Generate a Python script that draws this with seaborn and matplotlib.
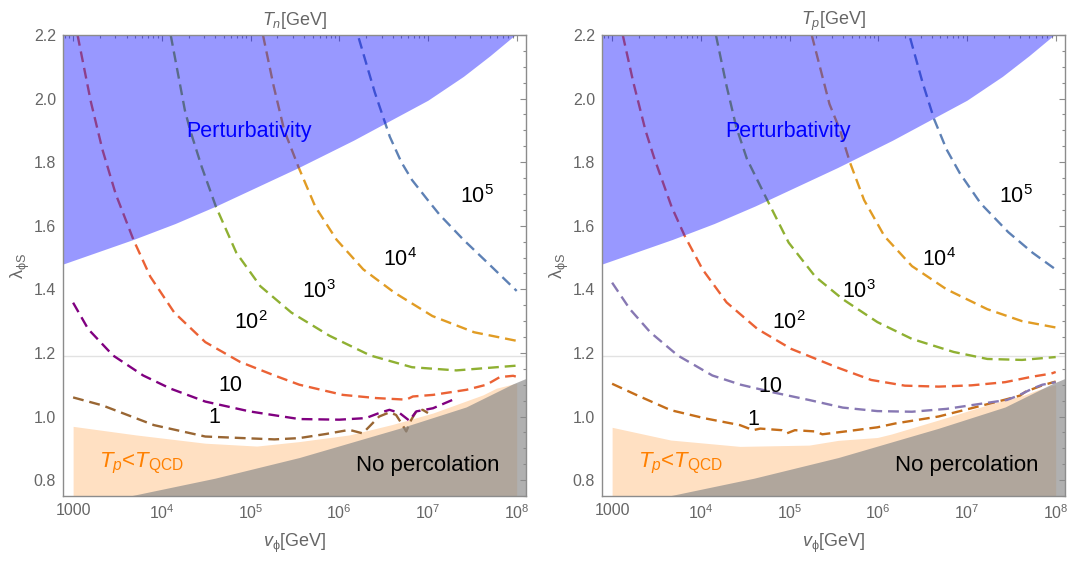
import numpy as np
import matplotlib
matplotlib.use("Agg")
import matplotlib.pyplot as plt
import matplotlib.ticker as mticker
import seaborn as sns

# ── Data (x values are log10 of v_phi in GeV) ────────────────────────────────
# perturbativity bound (same for both panels)
pert_logv = [2.85, 3.68, 4.15, 4.61, 5.54, 6.16, 6.60, 7.00, 7.40, 7.70, 7.98, 8.20]
pert_lam  = [1.476, 1.557, 1.607, 1.662, 1.783, 1.869, 1.935, 1.995, 2.070, 2.135, 2.200, 2.255]

# no-percolation bound (same for both panels)
noperc_logv = [3.64, 4.60, 5.55, 6.68, 7.43, 7.96, 8.15]
noperc_lam  = [0.750, 0.806, 0.871, 0.963, 1.030, 1.103, 1.125]

# T_p < T_QCD upper edge
qcd_n_logv = [3.0, 3.71, 4.49, 5.07, 5.547, 6.113, 6.60, 7.057, 7.62, 7.77, 8.0]
qcd_n_lam  = [0.969, 0.942, 0.916, 0.907, 0.921, 0.942, 0.975, 1.011, 1.068, 1.089, 1.105]
qcd_p_logv = [3.0, 3.66, 4.44, 5.22, 5.55, 5.99, 6.15, 6.68, 7.24, 7.65, 7.80, 8.0]
qcd_p_lam  = [0.966, 0.926, 0.906, 0.910, 0.925, 0.934, 0.945, 0.989, 1.037, 1.068, 1.084, 1.100]

# T_n contours
tn_1e5_x = [6.22, 6.40, 6.57, 6.70, 6.82, 7.00, 7.13, 7.40, 7.67, 8.00]
tn_1e5_y = [2.19, 2.02, 1.88, 1.80, 1.744, 1.68, 1.635, 1.556, 1.484, 1.395]
tn_1e4_x = [5.14, 5.26, 5.38, 5.54, 5.73, 5.97, 6.27, 6.62, 7.05, 7.52, 8.00]
tn_1e4_y = [2.20, 2.04, 1.90, 1.785, 1.66, 1.556, 1.463, 1.39, 1.316, 1.265, 1.238]
tn_1e3_x = [4.10, 4.26, 4.32, 4.45, 4.61, 4.84, 5.11, 5.46, 5.89, 6.35, 6.82, 7.32, 8.00]
tn_1e3_y = [2.20, 1.963, 1.90, 1.785, 1.66, 1.515, 1.41, 1.327, 1.254, 1.192, 1.155, 1.145, 1.16]
tn_1e2_x = [3.05, 3.20, 3.33, 3.48, 3.68, 3.87, 4.14, 4.49, 4.88, 5.27, 5.55, 6.04, 6.415,
            6.755, 6.83, 7.057, 7.434, 7.66, 7.81, 7.96, 8.00]
tn_1e2_y = [2.20, 1.99, 1.84, 1.70, 1.556, 1.44, 1.327, 1.234, 1.172, 1.129, 1.10, 1.068, 1.058,
            1.053, 1.063, 1.068, 1.084, 1.10, 1.124, 1.128, 1.125]
tn_10_x = [3.0, 3.17, 3.45, 3.79, 4.10, 4.49, 4.99, 5.547, 6.0, 6.30, 6.45, 6.566, 6.68,
           6.79, 6.868, 7.057, 7.30]
tn_10_y = [1.358, 1.275, 1.192, 1.129, 1.0875, 1.047, 1.016, 0.992, 0.99, 0.995, 1.011, 1.021, 1.011,
           0.987, 1.016, 1.026, 1.055]
tn_1_x = [3.0, 3.33, 3.91, 4.49, 5.27, 5.547, 5.85, 6.113, 6.264, 6.45, 6.566, 6.64, 6.70,
          6.755, 6.81, 6.868, 6.94, 7.0]
tn_1_y = [1.060, 1.035, 0.973, 0.937, 0.928, 0.932, 0.945, 0.958, 0.947, 1.0, 1.013, 1.005, 0.979,
          0.953, 0.989, 1.016, 1.021, 1.011]

# T_p contours
tp_1e5_x = [6.36, 6.50, 6.63, 6.77, 6.92, 7.155, 7.465, 7.74, 8.00]
tp_1e5_y = [2.19, 2.05, 1.935, 1.84, 1.765, 1.67, 1.58, 1.515, 1.4625]
tp_1e4_x = [5.25, 5.45, 5.57, 5.68, 5.84, 6.07, 6.38, 6.77, 7.23, 7.62, 8.00]
tp_1e4_y = [2.20, 1.983, 1.90, 1.80, 1.681, 1.567, 1.473, 1.40, 1.3375, 1.30, 1.28]
tp_1e3_x = [4.17, 4.29, 4.40, 4.52, 4.75, 4.99, 5.29, 5.60, 5.99, 6.38, 6.85, 7.23, 7.62, 8.00]
tp_1e3_y = [2.20, 2.04, 1.91, 1.81, 1.68, 1.547, 1.44, 1.369, 1.297, 1.244, 1.203, 1.181, 1.178, 1.187]
tp_1e2_x = [3.12, 3.24, 3.376, 3.47, 3.67, 3.82, 4.02, 4.29, 4.64, 5.02, 5.53, 5.92, 6.30,
            6.68, 7.05, 7.43, 7.73, 7.95, 8.00]
tp_1e2_y = [2.20, 2.05, 1.90, 1.817, 1.66, 1.567, 1.4625, 1.359, 1.275, 1.2125, 1.155, 1.115, 1.097,
            1.094, 1.098, 1.108, 1.125, 1.135, 1.14]
tp_10_x = [3.0, 3.20, 3.43, 3.74, 4.13, 4.45, 4.83, 5.22, 5.60, 5.99, 6.38, 6.77, 7.155,
           7.45, 7.58, 7.74, 7.85, 8.00]
tp_10_y = [1.421, 1.338, 1.265, 1.192, 1.129, 1.10, 1.075, 1.052, 1.028, 1.017, 1.015, 1.024, 1.04,
           1.052, 1.066, 1.088, 1.10, 1.108]
tp_1_x = [3.0, 3.28, 3.66, 4.05, 4.44, 4.59, 4.67, 4.91, 4.97, 5.06, 5.29, 5.37, 5.60, 5.99,
          6.19, 6.68, 7.05, 7.43, 7.60, 7.66, 7.85, 8.00]
tp_1_y = [1.103, 1.067, 1.02, 0.994, 0.973, 0.957, 0.962, 0.957, 0.947, 0.957, 0.953, 0.944, 0.952,
          0.966, 0.978, 1.0, 1.026, 1.053, 1.066, 1.078, 1.098, 1.11]

contour_labels = ["1", "10", r"$\mathregular{10^2}$", r"$\mathregular{10^3}$",
                  r"$\mathregular{10^4}$", r"$\mathregular{10^5}$"]
label_pos_n = [(4.59, 0.978), (4.77, 1.079), (5.0, 1.275), (5.77, 1.374), (6.68, 1.473), (7.55, 1.671)]
label_pos_p = [(4.59, 0.973), (4.78, 1.077), (4.99, 1.275), (5.78, 1.374), (6.69, 1.473), (7.55, 1.671)]

xtick_vals = [1e3, 1e4, 1e5, 1e6, 1e7, 1e8]
xtick_labels = ["1000", r"$\mathregular{10^4}$", r"$\mathregular{10^5}$",
                r"$\mathregular{10^6}$", r"$\mathregular{10^7}$", r"$\mathregular{10^8}$"]

# Mathematica-like colours
c_blue, c_orange, c_green, c_red = "#5E81B5", "#E19C24", "#8FB032", "#EB6235"
colors_n = ["#996633", "#800080", c_red, c_green, c_orange, c_blue]
colors_p = ["#C56E1A", "#8778B3", c_red, c_green, c_orange, c_blue]

# ── Style ────────────────────────────────────────────────────────────────────
sns.set_theme(style="white")
plt.rcParams["font.family"] = ["Liberation Sans", "DejaVu Sans"]
plt.rcParams["mathtext.fontset"] = "custom"
plt.rcParams["mathtext.rm"] = "Liberation Sans"
plt.rcParams["mathtext.it"] = "Liberation Sans:italic"
plt.rcParams["mathtext.bf"] = "Liberation Sans:bold"

GRAY_TXT = "#666666"
FRAME = "#8c8c8c"
DASH = (0, (4.6, 2.5))

fig = plt.figure(figsize=(10.75, 5.61), dpi=100)
ax_n = fig.add_axes([0.0586, 0.1159, 0.4307, 0.8217])
ax_p = fig.add_axes([0.5600, 0.1159, 0.4307, 0.8217])


def v(logs):
    return 10 ** np.asarray(logs, dtype=float)


def draw_panel(ax, curves, colors, qcd_x, qcd_y, label_pos, title):
    # T_p < T_QCD region (under the lines)
    ax.fill_between(v(qcd_x), 0.7, qcd_y, color="#FFE0C2", lw=0, zorder=1)
    ax.axhline(1.19, color="#e2e2e2", lw=1.0, zorder=1.5)

    for (cx, cy), col in zip(curves, colors):
        sns.lineplot(x=v(cx), y=cy, ax=ax, color=col, lw=1.7, linestyle=DASH,
                     sort=False, estimator=None, zorder=2)

    # no percolation + perturbativity (translucent, over the lines)
    ax.fill_between(v(noperc_logv), 0.7, noperc_lam, color=(0.54, 0.54, 0.54),
                    alpha=0.67, lw=0, zorder=3)
    ax.fill_between(v(pert_logv), pert_lam, 2.3, color=(0.07, 0.07, 1.0),
                    alpha=0.43, lw=0, zorder=3)

    for txt, (lx, ly) in zip(contour_labels, label_pos):
        ax.text(10 ** lx, ly, txt, fontsize=15.5, ha="center", va="baseline",
                color="black", zorder=5)

    ax.text(10 ** 4.98, 1.895, "Perturbativity", color="#0000FF", fontsize=15.5,
            ha="center", va="center", zorder=5)
    ax.text(10 ** 3.775, 0.852, r"$T_p$<$T_{\mathrm{QCD}}$", color="#FF8000",
            fontsize=16, ha="center", va="center", zorder=5)
    ax.text(10 ** 7.0, 0.847, "No percolation", color="black", fontsize=16,
            ha="center", va="center", zorder=5)

    ax.set_xscale("log")
    ax.set_xlim(10 ** 2.886, 10 ** 8.105)
    ax.set_ylim(0.75, 2.2)
    ax.set_xticks(xtick_vals)
    ax.set_xticklabels(xtick_labels)
    ax.xaxis.set_minor_locator(mticker.LogLocator(base=10, subs=np.arange(2, 10)))
    ax.xaxis.set_minor_formatter(mticker.NullFormatter())
    ax.yaxis.set_major_locator(mticker.MultipleLocator(0.2))
    ax.yaxis.set_minor_locator(mticker.MultipleLocator(0.05))
    ax.yaxis.set_major_formatter(mticker.FormatStrFormatter("%.1f"))

    ax.tick_params(which="both", direction="in", top=True, right=True,
                   color=FRAME, labelcolor=GRAY_TXT, labelsize=11.5, width=0.8)
    ax.tick_params(which="major", length=4.2, pad=5)
    ax.tick_params(which="minor", length=2.3)
    for sp in ax.spines.values():
        sp.set_color(FRAME)
        sp.set_linewidth(1.0)
        sp.set_zorder(6)

    ax.set_title(title, fontsize=13, color=GRAY_TXT, pad=7)
    ax.set_xlabel(r"$v_{\mathregular{ϕ}}$[GeV]", fontsize=13, color=GRAY_TXT, labelpad=7)
    ax.set_ylabel(r"λ$_{\mathregular{ϕS}}$", fontsize=13, color=GRAY_TXT, labelpad=1)


curves_n = [(tn_1_x, tn_1_y), (tn_10_x, tn_10_y), (tn_1e2_x, tn_1e2_y),
            (tn_1e3_x, tn_1e3_y), (tn_1e4_x, tn_1e4_y), (tn_1e5_x, tn_1e5_y)]
curves_p = [(tp_1_x, tp_1_y), (tp_10_x, tp_10_y), (tp_1e2_x, tp_1e2_y),
            (tp_1e3_x, tp_1e3_y), (tp_1e4_x, tp_1e4_y), (tp_1e5_x, tp_1e5_y)]

draw_panel(ax_n, curves_n, colors_n, qcd_n_logv, qcd_n_lam, label_pos_n, r"$T_n$[GeV]")
draw_panel(ax_p, curves_p, colors_p, qcd_p_logv, qcd_p_lam, label_pos_p, r"$T_p$[GeV]")

fig.savefig("out.png", dpi=100)
